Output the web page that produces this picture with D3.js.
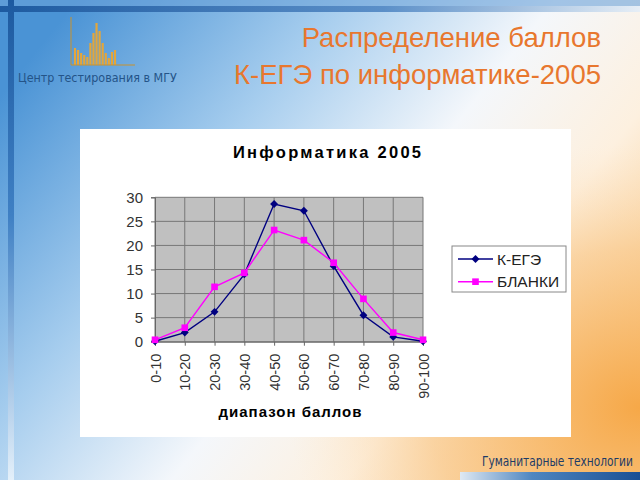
<!DOCTYPE html>
<html>
<head>
<meta charset="utf-8">
<script src="https://cdn.jsdelivr.net/npm/d3@7"></script>
<style>
  body { margin: 0; }
  svg { display: block; }
</style>
</head>
<body>
<svg id="slide" width="640" height="480"></svg>
<script>
// data
var ranges = ['0-10', '10-20', '20-30', '30-40', '40-50', '50-60', '60-70', '70-80', '80-90', '90-100'];
var kege = [0.1, 1.9, 6.2, 14.0, 28.6, 27.2, 15.7, 5.5, 1.0, 0.1];
var blanki = [0.4, 2.9, 11.4, 14.3, 23.2, 21.1, 16.4, 8.9, 1.9, 0.4];
var yTicks = [0, 5, 10, 15, 20, 25, 30];
// little histogram in the logo (bar heights, px)
var logoBars = [17, 15, 12, 10, 8, 22, 32, 42, 34, 22, 12, 7, 13, 15];

var series = [
  {name: 'К-ЕГЭ', vals: kege, color: '#000080', marker: 'diamond'},
  {name: 'БЛАНКИ', vals: blanki, color: '#ff00ff', marker: 'square'}
];

var svg = d3.select('#slide');
var defs = svg.append('defs');

// squeeze a text horizontally to a given width (condensed look)
function squeeze(sel, x, y, width, anchorEnd) {
  var w = sel.node().getComputedTextLength();
  var k = Math.min(1, width / w);
  var x0 = anchorEnd ? x - width : x;
  sel.attr('transform', 'translate(' + x0 + ',' + y + ') scale(' + k + ',1)');
}

// background gradients
var bg = defs.append('linearGradient').attr('id', 'bg')
  .attr('x1', 0).attr('y1', 0.2).attr('x2', 1).attr('y2', 0.8);
bg.append('stop').attr('offset', 0).attr('stop-color', '#4a93d5');
bg.append('stop').attr('offset', 0.3).attr('stop-color', '#a6cdee');
bg.append('stop').attr('offset', 0.55).attr('stop-color', '#f4f7fb');
bg.append('stop').attr('offset', 0.75).attr('stop-color', '#fdf0df');
bg.append('stop').attr('offset', 1).attr('stop-color', '#f8c27a');

var orange = defs.append('radialGradient').attr('id', 'orange')
  .attr('cx', 1).attr('cy', 0.85).attr('r', 0.55);
orange.append('stop').attr('offset', 0).attr('stop-color', '#f6a848').attr('stop-opacity', 1);
orange.append('stop').attr('offset', 0.6).attr('stop-color', '#f9c88a').attr('stop-opacity', 0.6);
orange.append('stop').attr('offset', 1).attr('stop-color', '#fde6c8').attr('stop-opacity', 0);

var topBand = defs.append('linearGradient').attr('id', 'topBand');
topBand.append('stop').attr('offset', 0).attr('stop-color', '#1d5aa0');
topBand.append('stop').attr('offset', 0.6).attr('stop-color', '#5b8fc8');
topBand.append('stop').attr('offset', 1).attr('stop-color', '#e6eef6');

var sideBand = defs.append('linearGradient').attr('id', 'sideBand')
  .attr('x1', 0).attr('y1', 0).attr('x2', 0).attr('y2', 1);
sideBand.append('stop').attr('offset', 0).attr('stop-color', '#1d5aa0');
sideBand.append('stop').attr('offset', 0.45).attr('stop-color', '#3f80c4');
sideBand.append('stop').attr('offset', 1).attr('stop-color', '#e4f0fa');

var bottomBar = defs.append('linearGradient').attr('id', 'bottomBar');
bottomBar.append('stop').attr('offset', 0).attr('stop-color', '#dfe9f3');
bottomBar.append('stop').attr('offset', 0.4).attr('stop-color', '#4f86c0');
bottomBar.append('stop').attr('offset', 1).attr('stop-color', '#1a4f94');

svg.append('rect').attr('width', 640).attr('height', 480).attr('fill', 'url(#bg)');
svg.append('rect').attr('width', 640).attr('height', 480).attr('fill', 'url(#orange)');
svg.append('rect').attr('x', 0).attr('y', 0).attr('width', 640).attr('height', 6).attr('fill', '#6aa2d8').attr('opacity', 0.6);
svg.append('rect').attr('x', 0).attr('y', 6).attr('width', 640).attr('height', 6).attr('fill', 'url(#topBand)');
svg.append('rect').attr('x', 8).attr('y', 0).attr('width', 6).attr('height', 480).attr('fill', 'url(#sideBand)');
svg.append('rect').attr('x', 460).attr('y', 472).attr('width', 180).attr('height', 8).attr('fill', 'url(#bottomBar)');

// logo
var logo = svg.append('g').attr('class', 'logo');
var lx = d3.scaleBand().domain(d3.range(logoBars.length)).range([73, 117]).padding(0.3);
logo.selectAll('rect.bar').data(logoBars).enter().append('rect')
  .attr('class', 'bar')
  .attr('x', (d, i) => lx(i))
  .attr('y', d => 65 - d)
  .attr('width', lx.bandwidth())
  .attr('height', d => d)
  .attr('fill', '#e4a63a');
logo.append('path').attr('d', 'M71,17V65H135').attr('fill', 'none')
  .attr('stroke', '#c8922e').attr('stroke-width', 1);
var logoText = logo.append('text')
  .attr('font-family', '"DejaVu Sans Condensed", "Liberation Sans Narrow", "DejaVu Sans", sans-serif')
  .attr('font-size', 13).attr('fill', '#245488')
  .text('Центр тестирования в МГУ');
squeeze(logoText, 18, 82, 159, false);

// slide title
var title = svg.append('g')
  .attr('font-family', '"Liberation Sans", Arial, sans-serif')
  .attr('font-size', 27.5).attr('fill', '#e8772e').attr('text-anchor', 'end');
title.append('text').attr('x', 601).attr('y', 47).text('Распределение баллов');
title.append('text').attr('x', 601).attr('y', 84).text('К-ЕГЭ по информатике-2005');

// footer
var footer = svg.append('text')
  .attr('font-family', '"DejaVu Sans Condensed", "Liberation Sans Narrow", "DejaVu Sans", sans-serif')
  .attr('font-size', 13.5).attr('fill', '#1d3b66')
  .text('Гуманитарные технологии');
squeeze(footer, 633, 466, 151, true);

// chart box
svg.append('rect').attr('x', 80).attr('y', 129).attr('width', 491).attr('height', 308)
  .attr('fill', '#ffffff');

var x = d3.scalePoint().domain(ranges).range([155, 423]).padding(0);
var y = d3.scaleLinear().domain([0, 30]).range([341.7, 197.3]);

var chart = svg.append('g').attr('font-family', '"Liberation Sans", Arial, sans-serif');

chart.append('text')
  .attr('x', 327).attr('y', 158).attr('text-anchor', 'middle')
  .attr('font-size', 16.5).attr('font-weight', 'bold')
  .attr('textLength', 188).attr('lengthAdjust', 'spacing')
  .text('Информатика 2005');

// plot area
chart.append('rect')
  .attr('x', x.range()[0]).attr('y', y(30))
  .attr('width', x.range()[1] - x.range()[0]).attr('height', y(0) - y(30))
  .attr('fill', '#c0c0c0');

chart.append('g').selectAll('line.hgrid').data(yTicks).enter().append('line')
  .attr('class', 'hgrid')
  .attr('x1', x.range()[0]).attr('x2', x.range()[1])
  .attr('y1', d => y(d)).attr('y2', d => y(d))
  .attr('stroke', '#777').attr('stroke-width', 1);

chart.append('g').selectAll('line.vgrid').data(ranges).enter().append('line')
  .attr('class', 'vgrid')
  .attr('x1', d => x(d)).attr('x2', d => x(d))
  .attr('y1', y(30)).attr('y2', y(0))
  .attr('stroke', '#777').attr('stroke-width', 1);

// y axis
var yAxis = chart.append('g')
  .attr('transform', 'translate(' + x.range()[0] + ',0)')
  .call(d3.axisLeft(y).tickValues(yTicks).tickSize(4).tickPadding(8));
yAxis.select('.domain').attr('stroke', '#666');
yAxis.selectAll('.tick line').attr('stroke', '#666');
yAxis.selectAll('text').attr('font-size', 15).attr('fill', '#333')
  .attr('font-family', '"Liberation Sans", Arial, sans-serif');

// x axis
var xAxis = chart.append('g')
  .attr('transform', 'translate(0,' + y(0) + ')')
  .call(d3.axisBottom(x).tickSize(4).tickPadding(4));
xAxis.select('.domain').attr('stroke', '#666');
xAxis.selectAll('.tick line').attr('stroke', '#666');
xAxis.selectAll('text')
  .attr('font-size', 14.5).attr('fill', '#333')
  .attr('font-family', '"Liberation Sans", Arial, sans-serif')
  .attr('text-anchor', 'end')
  .attr('transform', 'rotate(-90)')
  .attr('x', -12).attr('y', 0).attr('dy', '0.35em');

// axis titles
chart.append('text')
  .attr('x', 290).attr('y', 417).attr('text-anchor', 'middle')
  .attr('font-size', 15).attr('font-weight', 'bold')
  .attr('textLength', 143).attr('lengthAdjust', 'spacing')
  .text('диапазон баллов');

defs.append('clipPath').attr('id', 'ytitleClip')
  .append('rect').attr('x', 95).attr('y', 228).attr('width', 30).attr('height', 100);
chart.append('text')
  .attr('clip-path', 'url(#ytitleClip)')
  .attr('transform', 'translate(114,307) rotate(-90)')
  .attr('font-size', 13.5).attr('font-weight', 'bold')
  .attr('textLength', 88).attr('lengthAdjust', 'spacing')
  .text('% учащихся');

// lines and markers
var line = d3.line().x((d, i) => x(ranges[i])).y(d => y(d));
var symType = {diamond: d3.symbolDiamond2 || d3.symbolDiamond, square: d3.symbolSquare};
var symSize = {diamond: 40, square: 44};

series.forEach(function(s) {
  chart.append('path')
    .datum(s.vals)
    .attr('d', line)
    .attr('fill', 'none')
    .attr('stroke', s.color)
    .attr('stroke-width', 1.4);
  chart.append('g').selectAll('path.marker').data(s.vals).enter().append('path')
    .attr('class', 'marker')
    .attr('transform', (d, i) => 'translate(' + x(ranges[i]) + ',' + y(d) + ')')
    .attr('d', d3.symbol().type(symType[s.marker]).size(symSize[s.marker]))
    .attr('fill', s.color);
});

// legend
var legend = chart.append('g');
legend.append('rect')
  .attr('x', 452).attr('y', 246).attr('width', 114).attr('height', 46)
  .attr('fill', '#fff').attr('stroke', '#888').attr('stroke-width', 1);
var items = legend.selectAll('g.item').data(series).enter().append('g')
  .attr('class', 'item')
  .attr('transform', (d, i) => 'translate(0,' + (259 + i * 22.7) + ')');
items.append('line')
  .attr('x1', 458).attr('x2', 493)
  .attr('stroke', d => d.color).attr('stroke-width', 1.4);
items.append('path')
  .attr('transform', 'translate(475.5,0)')
  .attr('d', d => d3.symbol().type(symType[d.marker]).size(symSize[d.marker])())
  .attr('fill', d => d.color);
items.append('text')
  .attr('x', 497).attr('dy', '0.36em')
  .attr('font-size', 15.5).attr('fill', '#222')
  .text(d => d.name);
</script>
</body>
</html>
